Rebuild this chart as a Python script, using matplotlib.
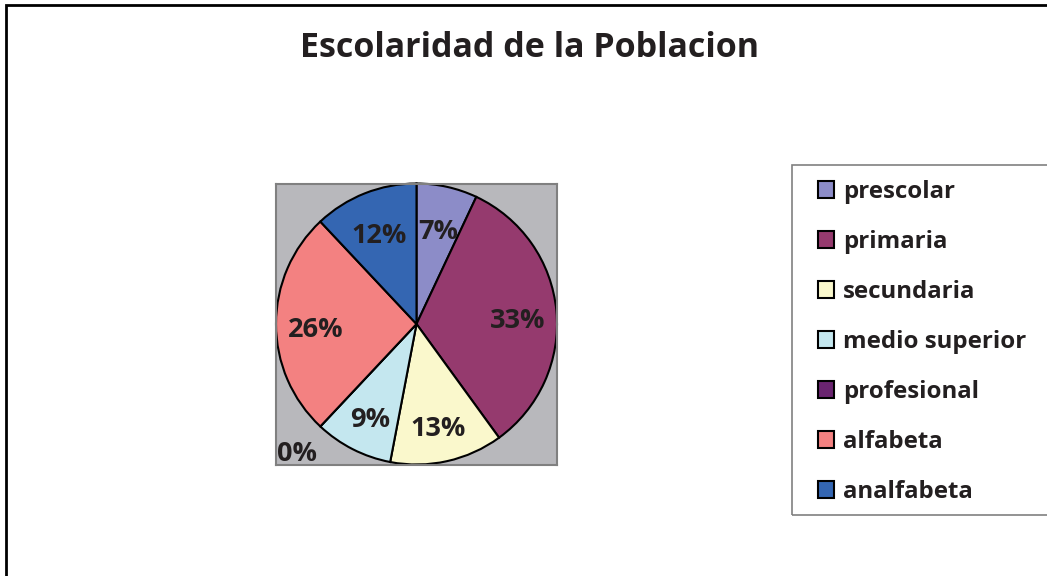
import matplotlib
matplotlib.use("Agg")
import matplotlib.pyplot as plt
from matplotlib.patches import Rectangle

plt.rcParams["font.family"] = ["Open Sans", "DejaVu Sans"]
plt.rcParams["font.weight"] = "bold"

title = "Escolaridad de la Poblacion"
categories = ["prescolar", "primaria", "secundaria", "medio superior",
              "profesional", "alfabeta", "analfabeta"]
values = [7, 33, 13, 9, 0, 26, 12]
colors = ["#8c8cc8", "#953a6e", "#faf8cc", "#c4e7ef",
          "#6a2470", "#f38181", "#3466b2"]
text_color = "#231f20"

W, H = 1047, 576
fig = plt.figure(figsize=(W / 100, H / 100), dpi=100)

# outer chart border (cropped on right/bottom)
fig.patches.append(Rectangle((6 / W, -0.1), 1.2, 1 - 5 / H + 0.1,
                             transform=fig.transFigure, fill=False,
                             edgecolor="black", linewidth=2))

ax = fig.add_axes([276 / W, (H - 465) / H, 281 / W, 282 / H])
ax.set_facecolor("#b8b8bc")
for s in ax.spines.values():
    s.set_edgecolor("#808080")
    s.set_linewidth(1.5)
ax.set_xticks([])
ax.set_yticks([])


def fmt(p):
    return f"{p:.0f}%" if p >= 0.5 else ""


wedges, texts, autotexts = ax.pie(
    values, colors=colors, startangle=90, counterclock=False,
    autopct=fmt, pctdistance=0.72, radius=1,
    wedgeprops=dict(edgecolor="black", linewidth=1.5),
    textprops=dict(fontsize=19.5, color=text_color, fontweight="bold"),
)
# nudge labels down a touch, text sits lower in the original
for t in autotexts:
    x, y = t.get_position()
    t.set_position((x, y - 0.045))
ax.set_xlim(-1.0, 1.0)
ax.set_ylim(-1.0, 1.0)
ax.set_frame_on(True)

# zero-value slice label sits in the corner, as in the original
for v in values:
    if v == 0:
        ax.text(0.003, -0.01, f"{v}%", transform=ax.transAxes, ha="left",
                va="bottom", fontsize=19.5, color=text_color, fontweight="bold")

fig.text(530 / W, 1 - 48 / H, title, ha="center", va="center",
         fontsize=24.5, fontweight="bold", color=text_color)

# legend box, running off the right edge like the original
fig.patches.append(Rectangle((792 / W, 1 - 515 / H), 0.3, 350 / H,
                             transform=fig.transFigure, fill=False,
                             edgecolor="#808080", linewidth=1.2))

leg = fig.legend(wedges, categories, loc="upper left",
                 bbox_to_anchor=(818 / W, 1 - 180 / H), frameon=False,
                 fontsize=17.3, labelspacing=1.08,
                 handlelength=0.68, handleheight=0.68, handletextpad=0.35,
                 borderpad=0, borderaxespad=0)
for t in leg.get_texts():
    t.set_color(text_color)
for h in leg.legend_handles:
    h.set_edgecolor("black")
    h.set_linewidth(1.5)

fig.savefig("out.png", dpi=100, facecolor="white")
